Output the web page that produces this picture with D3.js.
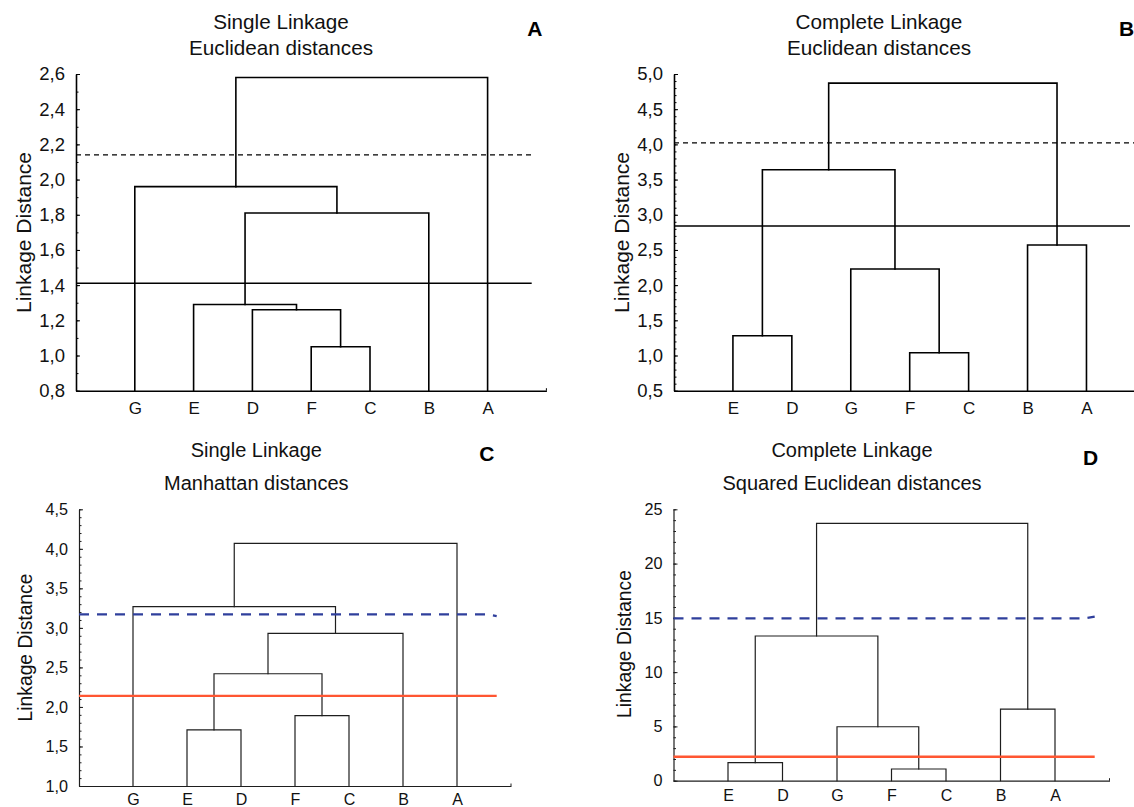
<!DOCTYPE html>
<html><head><meta charset="utf-8">
<script src="https://cdn.jsdelivr.net/npm/d3@7"></script>
<style>
html,body{margin:0;padding:0;background:#fff;}
svg{display:block;font-family:"Liberation Sans",Arial,Helvetica,sans-serif;}
</style>
</head><body>
<svg id="chart" width="1134" height="807"></svg>
<script>
// ---------- DATA ----------
// Panel A: Single linkage, Euclidean
const leavesA  = ["G","E","D","F","C","B","A"];
const linksA   = [["F","C"],["D",0],["E",1],[2,"B"],["G",3],[4,"A"]]; // numbers = earlier merge index
const heightsA = [1.05,1.26,1.29,1.81,1.96,2.58];
const cutsA    = [2.14,1.41];
const ticksA   = [0.8,1.0,1.2,1.4,1.6,1.8,2.0,2.2,2.4,2.6];
const titlesA  = ["Single Linkage","Euclidean distances"];

// Panel B: Complete linkage, Euclidean
const leavesB  = ["E","D","G","F","C","B","A"];
const linksB   = [["F","C"],["E","D"],["G",0],["B","A"],[1,2],[4,3]];
const heightsB = [1.04,1.28,2.23,2.57,3.64,4.87];
const cutsB    = [4.02,2.84];
const ticksB   = [0.5,1.0,1.5,2.0,2.5,3.0,3.5,4.0,4.5,5.0];
const titlesB  = ["Complete Linkage","Euclidean distances"];

// Panel C: Single linkage, Manhattan
const leavesC  = ["G","E","D","F","C","B","A"];
const linksC   = [["E","D"],["F","C"],[0,1],[2,"B"],["G",3],[4,"A"]];
const heightsC = [1.71,1.89,2.42,2.93,3.27,4.07];
const cutsC    = [3.17,2.14];
const ticksC   = [1.0,1.5,2.0,2.5,3.0,3.5,4.0,4.5];
const titlesC  = ["Single Linkage","Manhattan distances"];

// Panel D: Complete linkage, squared Euclidean
const leavesD  = ["E","D","G","F","C","B","A"];
const linksD   = [["F","C"],["E","D"],["G",0],["B","A"],[1,2],[4,3]];
const heightsD = [1.08,1.66,4.97,6.60,13.33,23.70];
const cutsD    = [14.96,2.21];
const ticksD   = [0,5,10,15,20,25];
const titlesD  = ["Complete Linkage","Squared Euclidean distances"];

const panelTags = ["A","B","C","D"];
const yAxisLabel = "Linkage Distance";

// ---------- LAYOUT / STYLE ----------
const fmtComma = d => d3.format(".1f")(d).replace(".", ",");
const fmtInt = d3.format("d");
const blackCuts = [{color:"#000", width:1.3, dash:"5,4", hook:0},{color:"#000", width:1.5, dash:null, hook:0}];

const panels = [
  {leaves:leavesA, links:linksA, heights:heightsA, cuts:cutsA, ticks:ticksA, titles:titlesA, tag:panelTags[0],
   fmt:fmtComma, minor:0.1, x0:76, x1:546.4, yTop:74, yBot:390.7, cutEnd:531.7,
   cutStyle:blackCuts, lw:1.6, stroke:"#000",
   titleX:281, titleY:[29.3,55], titleSize:20.7, tagX:527.3, tagY:36,
   ylabX:23, ylabY:232.5, ylabSize:21, tickSize:18.5, leafSize:17, leafDy:23.3},
  {leaves:leavesB, links:linksB, heights:heightsB, cuts:cutsB, ticks:ticksB, titles:titlesB, tag:panelTags[1],
   fmt:fmtComma, minor:0.1, x0:674, x1:1145.4, yTop:74, yBot:390.7, cutEnd:[1134,1130],
   cutStyle:blackCuts, lw:1.6, stroke:"#000",
   titleX:879, titleY:[29.3,55], titleSize:20.7, tagX:1119, tagY:36,
   ylabX:621.7, ylabY:232.5, ylabSize:21, tickSize:18.5, leafSize:17, leafDy:23.3},
  {leaves:leavesC, links:linksC, heights:heightsC, cuts:cutsC, ticks:ticksC, titles:titlesC, tag:panelTags[2],
   fmt:fmtComma, minor:0.1, x0:79, x1:511, yTop:509.3, yBot:786, cutEnd:496.7,
   cutStyle:[{color:"#2f3f9c", width:2.3, dash:"10,8", hook:1.6},{color:"#ff5632", width:2.4, dash:null, hook:0}],
   lw:1.2, stroke:"#1e1e1e",
   titleX:256.3, titleY:[457.3,490], titleSize:20, tagX:479.3, tagY:461,
   ylabX:25.7, ylabY:647.5, ylabSize:19.3, tickSize:16.2, leafSize:16, leafDy:18.5},
  {leaves:leavesD, links:linksD, heights:heightsD, cuts:cutsD, ticks:ticksD, titles:titlesD, tag:panelTags[3],
   fmt:fmtInt, minor:1, x0:673.5, x1:1109.5, yTop:509.3, yBot:780.7, cutEnd:1094.7,
   cutStyle:[{color:"#2f3f9c", width:2.3, dash:"10,8", hook:-1.6},{color:"#ff5632", width:2.4, dash:null, hook:0}],
   lw:1.2, stroke:"#1e1e1e",
   titleX:852, titleY:[457.3,490], titleSize:20, tagX:1083, tagY:465,
   ylabX:624.3, ylabY:644, ylabSize:19.3, tickSize:16.2, leafSize:16, leafDy:20.5}
];

const svg = d3.select("#chart");

panels.forEach(p => {
  const g = svg.append("g");
  const dom = [p.ticks[0], p.ticks[p.ticks.length-1]];
  const x = d3.scalePoint().domain(p.leaves).range([p.x0, p.x1]).padding(1);
  const y = d3.scaleLinear().domain(dom).range([p.yBot, p.yTop]);

  // titles
  p.titles.forEach((t,i) => {
    g.append("text").attr("x", p.titleX).attr("y", p.titleY[i])
      .attr("text-anchor","middle").attr("font-size", p.titleSize).attr("fill","#111").text(t);
  });
  g.append("text").attr("x", p.tagX).attr("y", p.tagY).attr("font-size", 21)
    .attr("font-weight","bold").attr("fill","#000").text(p.tag);

  // y label
  g.append("text").attr("transform", `translate(${p.ylabX},${p.ylabY}) rotate(-90)`)
    .attr("text-anchor","middle").attr("dominant-baseline","central")
    .attr("font-size", p.ylabSize).attr("fill","#111").text(yAxisLabel);

  // y axis
  const ya = g.append("g").attr("transform", `translate(${p.x0},0)`)
    .call(d3.axisLeft(y).tickValues(p.ticks).tickFormat(p.fmt).tickSize(-4).tickSizeOuter(0).tickPadding(11));
  ya.select(".domain").attr("stroke", p.stroke).attr("stroke-width", p.lw);
  ya.selectAll(".tick line").attr("stroke", p.stroke).attr("stroke-width", 1);
  ya.selectAll(".tick text").attr("font-size", p.tickSize).attr("fill","#111")
    .attr("font-family","'Liberation Sans',Arial,sans-serif");
  const minorVals = d3.range(dom[0], dom[1] + p.minor/2, p.minor);
  const ym = g.append("g").attr("transform", `translate(${p.x0},0)`)
    .call(d3.axisLeft(y).tickValues(minorVals).tickFormat("").tickSize(-2.5).tickSizeOuter(0));
  ym.select(".domain").remove();
  ym.selectAll(".tick line").attr("stroke", p.stroke).attr("stroke-width", 1);

  // x axis
  const xa = g.append("g").attr("transform", `translate(0,${p.yBot})`)
    .call(d3.axisBottom(x).tickSize(0).tickSizeOuter(0));
  xa.select(".domain").attr("stroke", p.stroke).attr("stroke-width", p.lw);
  xa.selectAll(".tick text").attr("y", p.leafDy).attr("dy", 0).attr("font-size", p.leafSize)
    .attr("fill","#111").attr("font-family","'Liberation Sans',Arial,sans-serif");
  g.append("line").attr("x1", p.x1).attr("x2", p.x1).attr("y1", p.yBot).attr("y2", p.yBot-2.5)
    .attr("stroke", p.stroke).attr("stroke-width", 1);

  // dendrogram
  const nodes = [];
  const pos = c => typeof c === "number" ? nodes[c] : {x: x(c), h: dom[0]};
  const dg = g.append("g").attr("fill","none").attr("stroke", p.stroke).attr("stroke-width", p.lw)
    .attr("stroke-linejoin","miter").attr("stroke-linecap","square");
  p.links.forEach((lk, k) => {
    const a = pos(lk[0]), b = pos(lk[1]), h = p.heights[k];
    dg.append("path").attr("d", `M${a.x},${y(a.h)}V${y(h)}H${b.x}V${y(b.h)}`);
    nodes.push({x:(a.x+b.x)/2, h:h});
  });

  // cut lines
  p.cuts.forEach((c, i) => {
    const s = p.cutStyle[i];
    const xe = Array.isArray(p.cutEnd) ? p.cutEnd[i] : p.cutEnd;
    const yy = y(c);
    const d = s.hook ? `M${p.x0},${yy}H${xe-9}L${xe},${yy+s.hook}` : `M${p.x0},${yy}H${xe}`;
    g.append("path").attr("d", d).attr("fill","none").attr("stroke", s.color)
      .attr("stroke-width", s.width).attr("stroke-dasharray", s.dash);
  });
});
</script>
</body></html>
